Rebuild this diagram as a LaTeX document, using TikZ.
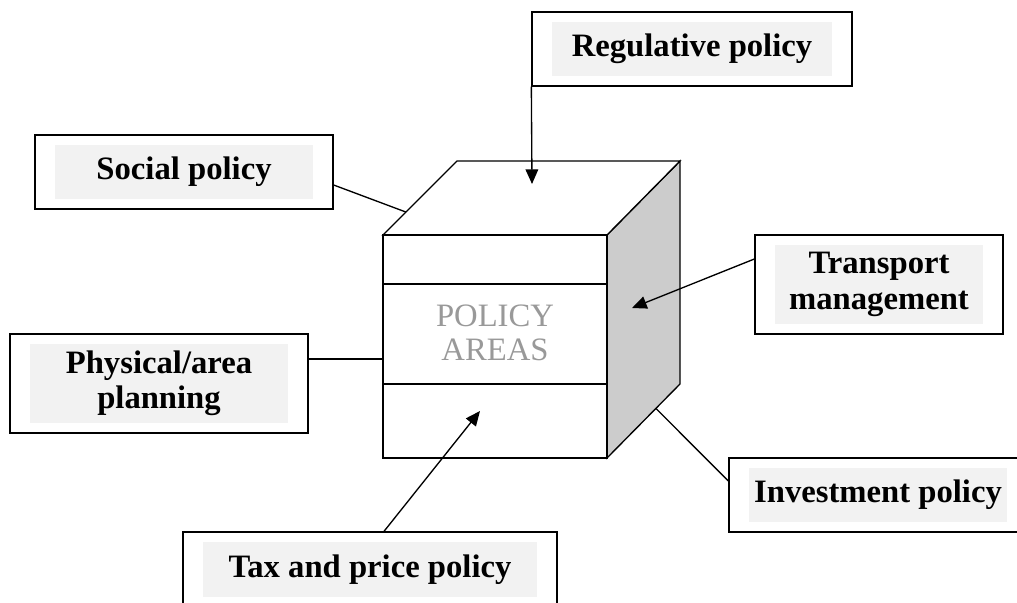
\documentclass[tikz,border=0pt]{standalone}
\usepackage{fontspec}
\setmainfont{Liberation Serif}
\usetikzlibrary{arrows.meta,calc}

\begin{document}
\begin{tikzpicture}[x=0.75pt,y=-0.75pt,
    lbl/.style={draw,line width=1pt,align=center,inner sep=0pt,
      font=\bfseries\fontsize{24.5}{26.5}\selectfont,
      path picture={\fill[black!5] ([shift={(20,-10)}]path picture bounding box.south west)
        rectangle ([shift={(-20,10)}]path picture bounding box.north east);}},
    arr/.style={line width=1pt,-{Triangle[length=11pt,width=9.5pt]}}]
    \useasboundingbox (0,0) rectangle (1017,603);
    %
    % the cube
    \coordinate (fnw) at (383,235);
    \coordinate (fne) at (607,235);
    \coordinate (fsw) at (383,458);
    \coordinate (fse) at (607,458);
    \coordinate (bnw) at (457,161);
    \coordinate (bne) at (680,161);
    \coordinate (bse) at (680,384);
    \draw[line width=1pt,fill=black!20] (fne) -- (bne) -- (bse) -- (fse) -- cycle;
    \draw[line width=1pt,fill=white] (fnw) -- (bnw) -- (bne) -- (fne) -- cycle;
    \draw[line width=1pt,fill=white] (fnw) rectangle (fse);
    \draw[line width=1pt] (383,284) -- (607,284);
    \draw[line width=1pt] (383,384) -- (607,384);
    \node[align=center,text=black!40,font=\fontsize{24.5}{25}\selectfont] (areas) at (495,333) {POLICY\\AREAS};
    %
    % the policies
    \node[lbl,minimum width=223.5pt,minimum height=55.5pt] (social) at (184,172) {Social policy};
    \node[lbl,minimum width=240pt,minimum height=55.5pt] (regul) at (692,49) {Regulative policy};
    \node[lbl,minimum width=223.5pt,minimum height=74.25pt] (phys) at (159,383.5) {Physical/area\\planning};
    \node[lbl,minimum width=186pt,minimum height=74.25pt] (trans) at (879,284.5) {Transport\\management};
    \node[lbl,minimum width=223.5pt,minimum height=55.5pt] (invest) at (878,495) {Investment policy};
    \node[lbl,minimum width=280.5pt,minimum height=56.25pt] (tax) at (370,569.5) {Tax and price policy};
    %
    % connectors
    \coordinate (topin) at (532,184);
    \coordinate (sidein) at (632,308);
    \coordinate (frontin) at (480,411);
    \coordinate (leftin) at (383,359);
    \draw[line width=1pt] ([shift={(0,13)}]social.east) -- ($(fnw)!0.31!(bnw)$);
    \draw[arr] (regul.south west) -- (topin);
    \draw[arr] ([shift={(0,-25.5)}]trans.west) -- (sidein);
    \draw[line width=1pt] ([shift={(0,-24.5)}]phys.east) -- (leftin);
    \draw[arr] ([shift={(14,0)}]tax.north) -- (frontin);
    \draw[line width=1pt] ([shift={(0,-14)}]invest.west) -- ($(fse)!0.67!(bse)$);
\end{tikzpicture}
\end{document}
